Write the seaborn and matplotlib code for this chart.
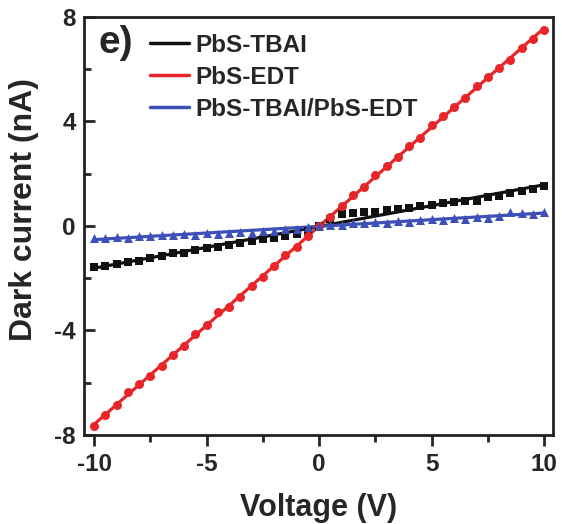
import numpy as np
import pandas as pd
import matplotlib
matplotlib.use("Agg")
import matplotlib.pyplot as plt
import seaborn as sns
from matplotlib.lines import Line2D
from matplotlib.ticker import MultipleLocator

sns.set_style("ticks")
plt.rcParams['font.family'] = ['Liberation Sans', 'DejaVu Sans']
plt.rcParams['font.weight'] = 'bold'
plt.rcParams['axes.unicode_minus'] = False

voltage = [-10, -9.5, -9, -8.5, -8, -7.5, -7, -6.5, -6, -5.5, -5, -4.5, -4, -3.5, -3,
           -2.5, -2, -1.5, -1, -0.5, 0, 0.5, 1, 1.5, 2, 2.5, 3, 3.5, 4, 4.5, 5,
           5.5, 6, 6.5, 7, 7.5, 8, 8.5, 9, 9.5, 10]

tbai = [-1.57, -1.52, -1.45, -1.38, -1.35, -1.22, -1.15, -1.05, -1.02, -0.92, -0.85,
        -0.8, -0.72, -0.65, -0.58, -0.5, -0.45, -0.38, -0.3, -0.2, 0.0, 0.25, 0.45,
        0.5, 0.52, 0.55, 0.6, 0.65, 0.7, 0.75, 0.8, 0.88, 0.92, 0.95, 0.95, 1.1,
        1.15, 1.25, 1.35, 1.4, 1.55]

edt = [-7.65, -7.25, -6.85, -6.35, -6.05, -5.75, -5.35, -4.95, -4.6, -4.15, -3.8,
       -3.3, -3.1, -2.7, -2.3, -1.95, -1.55, -1.1, -0.8, -0.4, 0.0, 0.35, 0.75,
       1.2, 1.5, 1.95, 2.3, 2.65, 3.05, 3.35, 3.85, 4.2, 4.55, 4.9, 5.35, 5.7,
       6.05, 6.35, 6.8, 7.15, 7.5]

bilayer = [-0.45, -0.45, -0.42, -0.45, -0.38, -0.4, -0.35, -0.33, -0.3, -0.33, -0.28,
           -0.3, -0.25, -0.22, -0.25, -0.2, -0.18, -0.12, -0.1, -0.05, 0.0, 0.05,
           0.05, 0.12, 0.1, 0.15, 0.12, 0.2, 0.15, 0.22, 0.25, 0.22, 0.3, 0.28,
           0.35, 0.3, 0.4, 0.55, 0.5, 0.45, 0.52]

labels = ["PbS-TBAI", "PbS-EDT", "PbS-TBAI/PbS-EDT"]
colors = ["#111111", "#e8262a", "#3d50b8"]
markers = ["s", "o", "^"]
msizes = [40, 42, 42]

df = pd.DataFrame({"Voltage": voltage, "PbS-TBAI": tbai,
                   "PbS-EDT": edt, "PbS-TBAI/PbS-EDT": bilayer})

fig = plt.figure(figsize=(5.62, 5.24), dpi=100)
ax = fig.add_axes([84/562, 1 - 435/524, (553-84)/562, (435-17)/524])

for lab, col, mk, ms in zip(labels, colors, markers, msizes):
    sns.regplot(data=df, x="Voltage", y=lab, ax=ax, ci=None, marker=mk,
                color=col,
                scatter_kws=dict(s=ms, linewidths=0, alpha=1, zorder=3),
                line_kws=dict(lw=2.3, zorder=2))

ax.set_xlim(-10.45, 10.4)
ax.set_ylim(-8, 8)
ax.xaxis.set_major_locator(MultipleLocator(5))
ax.xaxis.set_minor_locator(MultipleLocator(2.5))
ax.yaxis.set_major_locator(MultipleLocator(4))
ax.yaxis.set_minor_locator(MultipleLocator(2))

ax.tick_params(axis='x', which='major', direction='out', length=8, width=2,
               labelsize=17.5, pad=5)
ax.tick_params(axis='x', which='minor', direction='out', length=5, width=2)
ax.tick_params(axis='y', which='major', direction='in', length=8, width=2,
               labelsize=17.5, pad=6)
ax.tick_params(axis='y', which='minor', direction='in', length=5, width=2)
for lbl in ax.get_xticklabels() + ax.get_yticklabels():
    lbl.set_fontweight('bold')
for sp in ax.spines.values():
    sp.set_linewidth(2)
    sp.set_color('#222222')

ax.set_xlabel("Voltage (V)", fontsize=22, fontweight='bold', labelpad=12)
ax.set_ylabel("Dark current (nA)", fontsize=23, fontweight='bold')
ax.yaxis.set_label_coords(-0.095, 0.54)

handles = [Line2D([0], [0], color=c, lw=2.5) for c in colors]
leg = ax.legend(handles, labels, loc='upper left', bbox_to_anchor=(0.14, 0.96),
                frameon=False, borderpad=0, borderaxespad=0, handlelength=1.6,
                handletextpad=0.3, labelspacing=0.37,
                prop=dict(size=17.5, weight='bold'))

ax.text(0.03, 0.914, "e)", transform=ax.transAxes, fontsize=28,
        fontweight='bold', va='baseline', ha='left')

fig.savefig("out.png", dpi=100)
